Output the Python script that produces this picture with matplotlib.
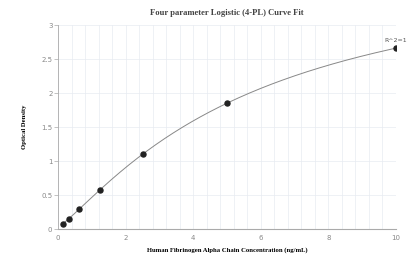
import numpy as np
import matplotlib
matplotlib.use("Agg")
import matplotlib.pyplot as plt
from matplotlib.ticker import MultipleLocator

# standard curve data
conc = [0.156, 0.3125, 0.625, 1.25, 2.5, 5, 10]
od = [0.078, 0.147, 0.30, 0.574, 1.10, 1.85, 2.66]
x_ticks = [0, 2, 4, 6, 8, 10]
y_ticks = [0, 0.5, 1, 1.5, 2, 2.5, 3]

x = np.array(conc)
y = np.array(od)


# 4PL fit: grid over b, c and linear least squares for a, d
def fit_4pl(x, y):
    best = None
    for b in np.linspace(0.5, 2.0, 151):
        for c in np.exp(np.linspace(np.log(0.5), np.log(200), 300)):
            g = 1.0 / (1.0 + (x / c) ** b)
            A = np.column_stack([g, 1 - g])
            coef, *_ = np.linalg.lstsq(A, y, rcond=None)
            err = np.sum((A @ coef - y) ** 2)
            if best is None or err < best[0]:
                best = (err, coef[0], b, c, coef[1])
    return best[1:]


a, b, c, d = fit_4pl(x, y)
xs = np.linspace(x.min(), x.max(), 300)
ys = d + (a - d) / (1 + (xs / c) ** b)

fig = plt.figure(figsize=(4.18, 2.57), dpi=100)
ax = fig.add_axes([58 / 418, 28 / 257, 338 / 418, 204 / 257])

ax.plot(xs, ys, color="#888888", lw=0.7, zorder=2)
ax.scatter(x, y, s=13, color="#222222", zorder=3)
ax.annotate("R^2=1", xy=(x[-1], y[-1]), xytext=(0, 4), textcoords="offset points",
            ha="center", va="bottom", fontsize=4.5, color="#555555")

ax.set_xlim(0, 10)
ax.set_ylim(0, 3)
ax.set_xticks(x_ticks)
ax.set_yticks(y_ticks)
ax.set_yticklabels(["0", "0.5", "1", "1.5", "2", "2.5", "3"])
ax.xaxis.set_minor_locator(MultipleLocator(0.4))
ax.grid(True, which="both", axis="x", color="#e8ebf2", lw=0.5)
ax.grid(True, which="major", axis="y", color="#e8ebf2", lw=0.5)
ax.set_axisbelow(True)

for s in ["top", "right"]:
    ax.spines[s].set_visible(False)
ax.spines["left"].set_color("#aaaaaa")
ax.spines["bottom"].set_color("#aaaaaa")
ax.spines["left"].set_linewidth(0.6)
ax.spines["bottom"].set_linewidth(0.8)
ax.tick_params(axis="y", length=3, width=0.5, color="#aaaaaa", labelsize=5, labelcolor="#888888", pad=1)
ax.tick_params(axis="x", length=0, labelsize=5, labelcolor="#888888", pad=4)
ax.tick_params(which="minor", length=0)

fig.text(0.5 * (58 + 396) / 418, 1 - 13 / 257, "Four parameter Logistic (4-PL) Curve Fit",
         ha="center", va="center", fontsize=6.2, fontweight="bold", family="Liberation Serif", color="#444444")
ax.set_xlabel("Human Fibrinogen Alpha Chain Concentration (ng/mL)", fontsize=4.8, fontweight="bold",
              family="Liberation Serif", labelpad=5)
ax.set_ylabel("Optical Density", fontsize=4.8, fontweight="bold", family="Liberation Serif", labelpad=10)

fig.savefig("out.png", dpi=100)
